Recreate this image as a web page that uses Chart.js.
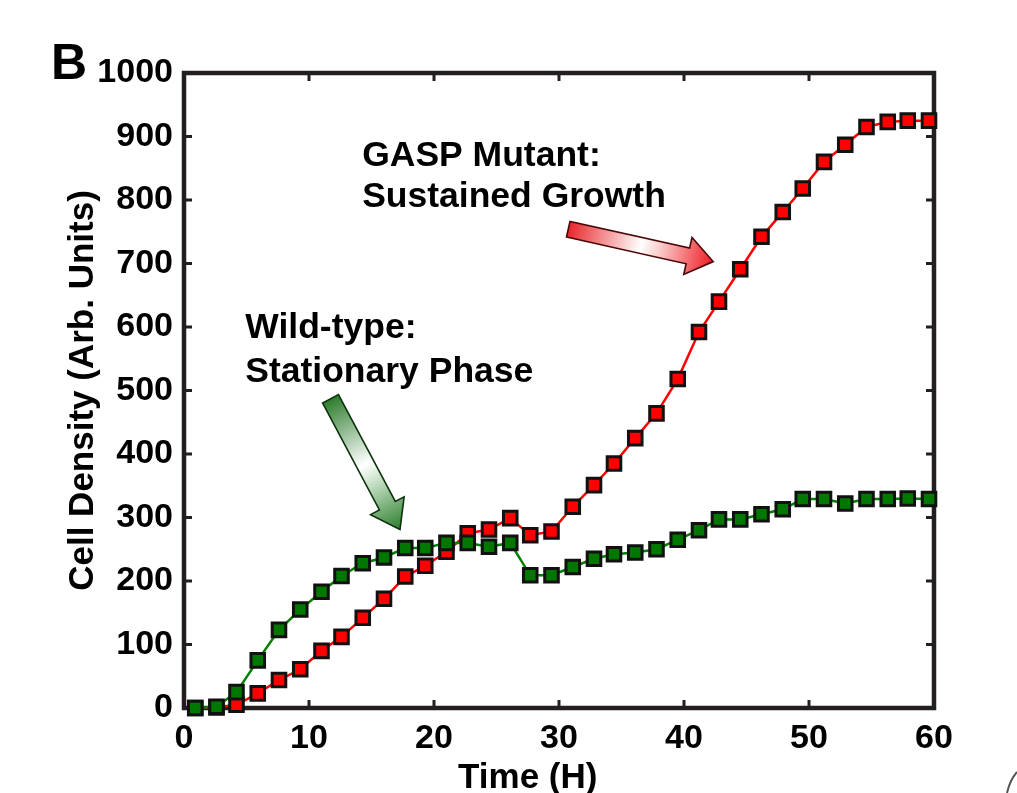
<!DOCTYPE html>
<html>
<head>
<meta charset="utf-8">
<script src="https://cdn.jsdelivr.net/npm/chart.js@4/dist/chart.umd.min.js"></script>
<style>
  html, body { margin: 0; padding: 0; background: #ffffff; }
  #wrap { width: 1017px; height: 793px; position: relative; }
</style>
</head>
<body>
<div id="wrap"><canvas id="c" width="1017" height="793"></canvas></div>
<script>
// ---- data ----
const timeHours = [0.9, 2.6, 4.2, 5.9, 7.6, 9.3, 11.0, 12.6, 14.3, 16.0, 17.7, 19.3, 21.0, 22.7, 24.4, 26.1, 27.7, 29.4,
                   31.1, 32.8, 34.4, 36.1, 37.8, 39.5, 41.2, 42.8, 44.5, 46.2, 47.9, 49.5, 51.2, 52.9, 54.6, 56.3, 57.9, 59.6];
const wildType   = [0, 2, 25, 75, 123, 155, 183, 208, 228, 237, 252, 252, 260, 260, 254, 260, 209, 209,
                    222, 235, 242, 245, 250, 265, 280, 297, 297, 305, 313, 329, 329, 322, 329, 329, 330, 329];
const gaspMutant = [0, 1, 5, 23, 44, 61, 90, 112, 142, 172, 207, 224, 246, 275, 281, 299, 272, 278,
                    317, 351, 385, 425, 464, 518, 592, 640, 691, 742, 781, 818, 860, 887, 915, 923, 925, 925];
const xTicks = [0, 10, 20, 30, 40, 50, 60];
const yTicks = [0, 100, 200, 300, 400, 500, 600, 700, 800, 900, 1000];
const xTitle = 'Time (H)';
const yTitle = 'Cell Density (Arb. Units)';
const panelLabel = 'B';
const mutantLabel = ['GASP Mutant:', 'Sustained Growth'];
const wildLabel = ['Wild-type:', 'Stationary Phase'];

const FONT = '"Liberation Sans", Arial, Helvetica, sans-serif';

const toPts = (ys) => ys.map((v, i) => ({ x: timeHours[i], y: v }));

// frame + inward ticks (drawn before datasets so markers sit on top)
const framePlugin = {
  id: 'frame',
  beforeDatasetsDraw(chart) {
    const { ctx, chartArea: a, scales: { x, y } } = chart;
    ctx.save();
    ctx.strokeStyle = '#231f20';
    ctx.lineCap = 'butt';
    ctx.lineWidth = 3;
    const tl = 6;
    yTicks.forEach(v => {
      const py = y.getPixelForValue(v);
      ctx.beginPath();
      ctx.moveTo(a.left, py); ctx.lineTo(a.left + tl + 2, py);
      ctx.moveTo(a.right, py); ctx.lineTo(a.right - tl - 2, py);
      ctx.stroke();
    });
    xTicks.forEach(v => {
      const px = x.getPixelForValue(v);
      ctx.beginPath();
      ctx.moveTo(px, a.bottom); ctx.lineTo(px, a.bottom - tl - 2);
      ctx.moveTo(px, a.top); ctx.lineTo(px, a.top + tl + 2);
      ctx.stroke();
    });
    ctx.lineWidth = 4.5;
    ctx.lineJoin = 'miter';
    ctx.strokeRect(a.left, a.top, a.right - a.left, a.bottom - a.top);
    ctx.restore();
  }
};

function drawArrow(ctx, x, y, tail, tip, opt) {
  const tx = x.getPixelForValue(tail[0]), ty = y.getPixelForValue(tail[1]);
  const hx = x.getPixelForValue(tip[0]), hy = y.getPixelForValue(tip[1]);
  const dx = hx - tx, dy = hy - ty, L = Math.hypot(dx, dy);
  const ux = dx / L, uy = dy / L, nx = -uy, ny = ux;
  const w = opt.shaft / 2, hw = opt.head / 2, hl = opt.headLen;
  const kx = hx - ux * hl, ky = hy - uy * hl;
  ctx.save();
  ctx.beginPath();
  ctx.moveTo(tx + nx * w, ty + ny * w);
  ctx.lineTo(kx + nx * w, ky + ny * w);
  ctx.lineTo(kx + nx * hw, ky + ny * hw);
  ctx.lineTo(hx, hy);
  ctx.lineTo(kx - nx * hw, ky - ny * hw);
  ctx.lineTo(kx - nx * w, ky - ny * w);
  ctx.lineTo(tx - nx * w, ty - ny * w);
  ctx.closePath();
  const g = ctx.createLinearGradient(tx, ty, hx, hy);
  opt.stops.forEach(s => g.addColorStop(s[0], s[1]));
  ctx.fillStyle = g;
  ctx.fill();
  ctx.lineWidth = 1.6;
  ctx.lineJoin = 'miter';
  ctx.strokeStyle = opt.outline;
  ctx.stroke();
  ctx.restore();
}

const annotationPlugin = {
  id: 'annot',
  afterDraw(chart) {
    const { ctx, scales: { x, y } } = chart;
    ctx.save();
    ctx.fillStyle = '#000';
    ctx.textBaseline = 'alphabetic';
    ctx.textAlign = 'left';
    // panel label
    ctx.font = 'bold 50px ' + FONT;
    ctx.fillText(panelLabel, 51, 79);
    // annotation texts (anchored in data coordinates)
    ctx.font = 'bold 35.5px ' + FONT;
    ctx.fillText(mutantLabel[0], x.getPixelForValue(14.25), y.getPixelForValue(853));
    ctx.fillText(mutantLabel[1], x.getPixelForValue(14.25), y.getPixelForValue(789));
    ctx.fillText(wildLabel[0], x.getPixelForValue(4.9), y.getPixelForValue(583));
    ctx.fillText(wildLabel[1], x.getPixelForValue(4.9), y.getPixelForValue(513));
    // x axis title (sits left of the axis centre in the original)
    ctx.font = 'bold 35px ' + FONT;
    ctx.textAlign = 'center';
    ctx.fillText(xTitle, x.getPixelForValue(27.5), 788);
    ctx.restore();
    // arrows
    drawArrow(ctx, x, y, [30.74, 754], [42.34, 703], {
      shaft: 16, head: 38, headLen: 26, outline: '#4a0808',
      stops: [[0, '#e8262b'], [0.5, '#ffffff'], [0.62, '#fbd0d0'], [1, '#ee1c24']]
    });
    drawArrow(ctx, x, y, [11.72, 487], [17.28, 281], {
      shaft: 18, head: 38, headLen: 27, outline: '#0c330c',
      stops: [[0, '#2f7d2f'], [0.5, '#ffffff'], [0.6, '#d7ead7'], [1, '#2d7f2d']]
    });
    // corner fragment of the page
    ctx.save();
    ctx.strokeStyle = '#555';
    ctx.lineWidth = 2;
    ctx.beginPath();
    ctx.moveTo(1017, 772); ctx.quadraticCurveTo(1010, 780, 1007, 793);
    ctx.stroke();
    ctx.restore();
  }
};

new Chart(document.getElementById('c'), {
  type: 'line',
  data: {
    datasets: [
      {
        label: 'Wild-type',
        data: toPts(wildType),
        borderColor: '#008000',
        borderWidth: 2.5,
        pointStyle: 'rect',
        pointRadius: 9.6,
        pointBackgroundColor: '#007800',
        pointBorderColor: '#111',
        pointBorderWidth: 3,
        tension: 0,
        clip: false
      },
      {
        label: 'GASP Mutant',
        data: toPts(gaspMutant),
        borderColor: '#ff0000',
        borderWidth: 2.5,
        pointStyle: 'rect',
        pointRadius: 9.6,
        pointBackgroundColor: '#ff0000',
        pointBorderColor: '#111',
        pointBorderWidth: 3,
        tension: 0,
        clip: false
      }
    ]
  },
  options: {
    responsive: false,
    animation: false,
    events: [],
    layout: { padding: { left: 0, top: 73, right: 83, bottom: 0 } },
    plugins: { legend: { display: false }, tooltip: { enabled: false } },
    scales: {
      x: {
        type: 'linear', min: 0, max: 60,
        afterFit: (s) => { s.height = 85; },
        afterBuildTicks: (s) => { s.ticks = xTicks.map(v => ({ value: v })); },
        grid: { display: false },
        border: { display: false },
        ticks: { color: '#000', padding: 2, maxRotation: 0, callback: (v) => String(v),
                 font: { family: FONT, size: 34, weight: 'bold' } },
        title: { display: false, text: xTitle }
      },
      y: {
        type: 'linear', min: 0, max: 1000,
        afterFit: (s) => { s.width = 184; },
        afterBuildTicks: (s) => { s.ticks = yTicks.map(v => ({ value: v })); },
        grid: { display: false },
        border: { display: false },
        ticks: { color: '#000', padding: 3, callback: (v) => String(v),
                 font: { family: FONT, size: 34, weight: 'bold' } },
        title: { display: true, text: yTitle, color: '#000', padding: { top: 62, bottom: 0 },
                 font: { family: FONT, size: 35, weight: 'bold', lineHeight: 1.2 } }
      }
    }
  },
  plugins: [framePlugin, annotationPlugin]
});
</script>
</body>
</html>
